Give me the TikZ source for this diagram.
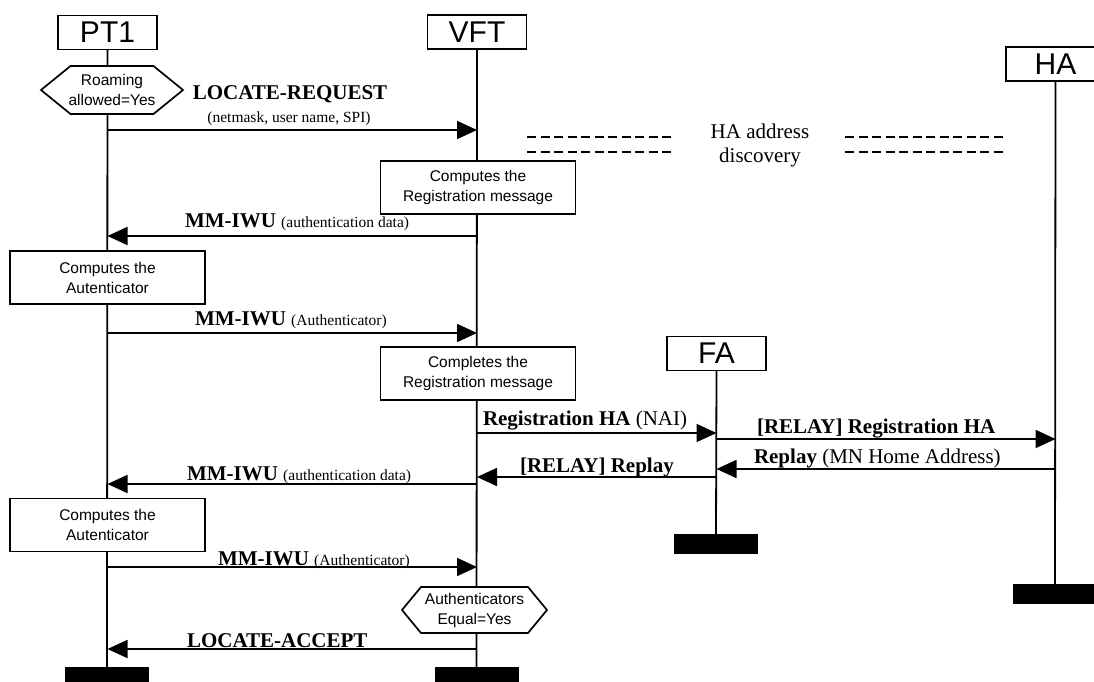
\documentclass[tikz,border=0pt]{standalone}
\usepackage{fontspec}
\setmainfont{Liberation Serif}
\setsansfont{Liberation Sans}
\usetikzlibrary{arrows.meta,calc}

\begin{document}
\begin{tikzpicture}[x=1pt,y=-1pt,
  every node/.style={inner sep=0pt, outer sep=0pt},
  entity/.style={draw, line width=1.7pt, fill=white, minimum width=99pt,
    minimum height=34pt, font=\sffamily\fontsize{30}{30}\selectfont},
  endbar/.style={fill=black, minimum width=84pt, minimum height=20pt},
  lifeline/.style={line width=1.8pt},
  action/.style={draw, line width=1.7pt, fill=white, minimum width=195pt,
    minimum height=53pt, align=center,
    font=\sffamily\fontsize{15.5}{20}\selectfont},
  hexframe/.style={draw, line width=1.7pt, fill=white},
  hextext/.style={align=center, font=\sffamily\fontsize{15.5}{20}\selectfont},
  msg/.style={line width=1.8pt, -{Triangle[length=20pt,width=18pt]}},
  lbl/.style={font=\fontsize{21}{24}\selectfont},
  paren/.style={font=\fontsize{15.5}{18}\selectfont},
  discline/.style={line width=1.4pt, dash pattern=on 9pt off 4.5pt}
]
\useasboundingbox (0,0) rectangle (1094,682);
\clip (0,0) rectangle (1094,682);

% ---- entities and their end bars
\node[entity] (PT1) at (107.5,32.5) {PT1};
\node[entity] (VFT) at (477,32) {VFT};
\node[entity] (HA)  at (1055.5,64) {HA};
\node[entity] (FA)  at (716.5,353.5) {FA};

\node[endbar] (PT1end) at (107,677) {};
\node[endbar] (VFTend) at (476.5,677) {};
\node[endbar] (FAend)  at (716,544) {};
\node[endbar] (HAend)  at (1055,594) {};

% ---- lifelines
\draw[lifeline] (PT1.south) -- (PT1end.north);
\draw[lifeline] (VFT.south) -- (VFTend.north);
\draw[lifeline] (FA.south)  -- (FAend.north);
\draw[lifeline] (HA.south)  -- (HAend.north);

% ---- conditions
\coordinate (roamc) at (112,90);
\draw[hexframe] ($(roamc)+(-71,0)$) -- ($(roamc)+(-41.5,-24)$) -- ($(roamc)+(41.5,-24)$)
  -- ($(roamc)+(71,0)$) -- ($(roamc)+(41.5,24)$) -- ($(roamc)+(-41.5,24)$) -- cycle;
\node[hextext] (roam) at (roamc) {Roaming\\allowed=Yes};

\coordinate (eqc) at (474.5,610);
\draw[hexframe] ($(eqc)+(-72.5,0)$) -- ($(eqc)+(-53.5,-23)$) -- ($(eqc)+(53.5,-23)$)
  -- ($(eqc)+(72.5,0)$) -- ($(eqc)+(53.5,23)$) -- ($(eqc)+(-53.5,23)$) -- cycle;
\node[hextext] (equal) at (eqc) {Authenticators\\Equal=Yes};

% ---- local actions
\node[action] (comp1) at (478,187.5) {Computes the\\Registration message};
\node[action] (auth1) at (107.5,277.5) {Computes the\\Autenticator};
\node[action] (comp2) at (478,373.5) {Completes the\\Registration message};
\node[action] (auth2) at (107.5,525) {Computes the\\Autenticator};

% ---- HA address discovery
\node[lbl, align=center] (disc) at (760,145) {HA address\\discovery};
\coordinate (dl1a) at (527,137);  \coordinate (dl1b) at (672,137);
\coordinate (dl2a) at (527,152);  \coordinate (dl2b) at (672,152);
\coordinate (dr1a) at (845,137);  \coordinate (dr1b) at (1004,137);
\coordinate (dr2a) at (845,152);  \coordinate (dr2b) at (1004,152);
\draw[discline] (dl1a) -- (dl1b);
\draw[discline] (dl2a) -- (dl2b);
\draw[discline] (dr1a) -- (dr1b);
\draw[discline] (dr2a) -- (dr2b);

% ---- message anchor points on the lifelines
\coordinate (p1) at (PT1 |- 0,130);  \coordinate (v1) at (VFT |- 0,130);
\coordinate (p2) at (PT1 |- 0,236);  \coordinate (v2) at (VFT |- 0,236);
\coordinate (p3) at (PT1 |- 0,333);  \coordinate (v3) at (VFT |- 0,333);
\coordinate (v4) at (VFT |- 0,433);  \coordinate (f4) at (FA |- 0,433);
\coordinate (f5) at (FA |- 0,439);   \coordinate (h5) at (HA |- 0,439);
\coordinate (h6) at (HA |- 0,469);   \coordinate (f6) at (FA |- 0,469);
\coordinate (f7) at (FA |- 0,477);   \coordinate (v7) at (VFT |- 0,477);
\coordinate (v8) at (VFT |- 0,484);  \coordinate (p8) at (PT1 |- 0,484);
\coordinate (p9) at (PT1 |- 0,567);  \coordinate (v9) at (VFT |- 0,567);
\coordinate (v10) at (VFT |- 0,649); \coordinate (p10) at (PT1 |- 0,649);

% ---- messages
\draw[msg] (p1) -- (v1);
\draw[msg] (v2) -- (p2);
\draw[msg] (p3) -- (v3);
\draw[msg] (v4) -- (f4);
\draw[msg] (f5) -- (h5);
\draw[msg] (h6) -- (f6);
\draw[msg] (f7) -- (v7);
\draw[msg] (v8) -- (p8);
\draw[msg] (p9) -- (v9);
\draw[msg] (v10) -- (p10);

% ---- message labels
\node[lbl, anchor=base] (m1) at (290,100) {\textbf{LOCATE-REQUEST}};
\node[paren, anchor=base] (m1p) at (289,123) {(netmask, user name, SPI)};
\node[lbl, anchor=base west] (m2) at (185,227)
  {\textbf{MM-IWU} {\fontsize{15.5}{18}\selectfont (authentication data)}};
\node[lbl, anchor=base west] (m3) at (195,325)
  {\textbf{MM-IWU} {\fontsize{15.5}{18}\selectfont (Authenticator)}};
\node[lbl, anchor=base west] (m4) at (483,425) {\textbf{Registration HA} (NAI)};
\node[lbl, anchor=base west] (m5) at (757,433) {\textbf{[RELAY] Registration HA}};
\node[lbl, anchor=base west] (m6) at (754,463) {\textbf{Replay} (MN Home Address)};
\node[lbl, anchor=base west] (m7) at (520,472) {\textbf{[RELAY] Replay}};
\node[lbl, anchor=base west] (m8) at (187,480)
  {\textbf{MM-IWU} {\fontsize{15.5}{18}\selectfont (authentication data)}};
\node[lbl, anchor=base west] (m9) at (218,565)
  {\textbf{MM-IWU} {\fontsize{15.5}{18}\selectfont (Authenticator)}};
\node[lbl, anchor=base west] (m10) at (187,647) {\textbf{LOCATE-ACCEPT}};
\end{tikzpicture}
\end{document}
